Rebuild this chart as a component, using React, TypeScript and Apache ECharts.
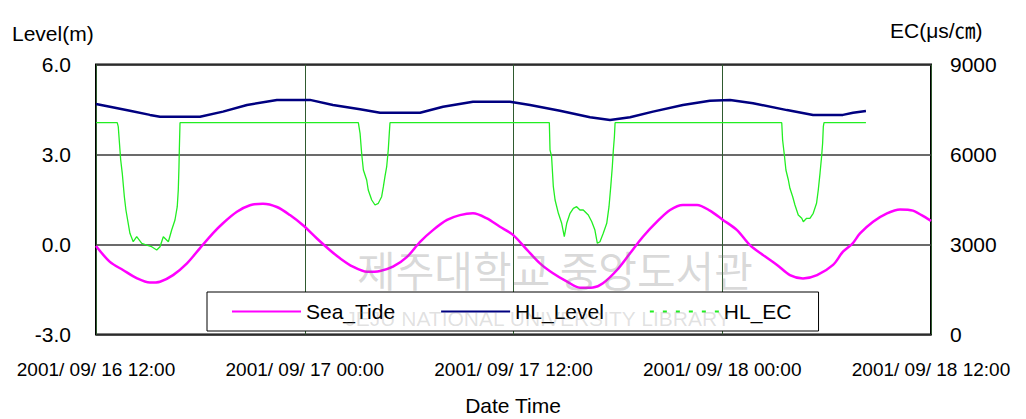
import React, { useEffect, useRef } from "react";
import * as echarts from "echarts";

// Hours after 2001/09/16 12:00
const X_TICK_LABELS = [
  "2001/ 09/ 16 12:00",
  "2001/ 09/ 17 00:00",
  "2001/ 09/ 17 12:00",
  "2001/ 09/ 18 00:00",
  "2001/ 09/ 18 12:00",
];

const TIDE_HOURS = [
  0, 0.8, 1.55, 2.36, 3.1, 3.68, 4.43, 5.23, 5.98, 6.73, 7.3, 8.1, 8.85, 9.6, 10.4, 11.15, 11.9,
  12.7, 13.45, 14.03, 14.77, 15.58, 16.33, 17.07, 17.88, 18.63, 19.37, 20.18, 20.92, 21.67, 22.47,
  23.22, 23.97, 24.78, 25.52, 26.27, 27.08, 27.82, 28.57, 29.14, 29.95, 30.7, 31.44, 32.25, 33.0,
  33.74, 34.55, 35.29, 36.04, 36.85, 37.59, 38.34, 39.15, 39.89, 40.64, 41.45, 42.37, 42.94, 43.5,
  43.92, 44.67, 45.47, 46.22, 46.96, 47.77, 48,
];
const TIDE_M = [
  -0.05, -0.58, -0.85, -1.13, -1.27, -1.24, -1.02, -0.63, -0.12, 0.38, 0.71, 1.09, 1.31, 1.36, 1.25,
  0.98, 0.64, 0.2, -0.19, -0.46, -0.74, -0.91, -0.88, -0.74, -0.41, 0.09, 0.48, 0.82, 0.98, 1.04,
  0.87, 0.59, 0.32, -0.18, -0.63, -0.96, -1.24, -1.44, -1.43, -1.29, -0.85, -0.29, 0.26, 0.76, 1.15,
  1.32, 1.32, 1.13, 0.82, 0.48, -0.02, -0.35, -0.68, -1.02, -1.13, -1.02, -0.68, -0.24, 0.04, 0.37,
  0.76, 1.04, 1.17, 1.13, 0.87, 0.78,
];

const LEVEL_HOURS = [
  0, 0.8, 1.95, 3.1, 3.68, 5.98, 7.3, 8.68, 10.4, 12.3, 13.62, 15.18, 16.33, 18.63, 19.95, 21.67,
  23.8, 24.95, 26.67, 28.4, 29.55, 30.7, 32.02, 33.74, 35.29, 36.45, 37.77, 39.72, 41.22, 42.94,
  43.52, 44.26,
];
const LEVEL_M = [
  4.68, 4.59, 4.46, 4.32, 4.26, 4.26, 4.43, 4.65, 4.82, 4.82, 4.65, 4.51, 4.39, 4.39, 4.59, 4.76,
  4.76, 4.65, 4.46, 4.24, 4.15, 4.24, 4.43, 4.65, 4.79, 4.82, 4.71, 4.48, 4.32, 4.32, 4.39, 4.45,
];

const EC_HOURS = [
  0, 1.22, 1.28, 1.42, 1.51, 1.63, 1.72, 1.95, 2.14, 2.34, 2.63, 2.91, 3.2, 3.49, 3.68, 3.87, 4.16,
  4.35, 4.54, 4.67, 4.73, 4.77, 4.79, 4.83,
  15.08, 15.18, 15.27, 15.37, 15.56, 15.65, 15.85, 16.04, 16.23, 16.42, 16.52, 16.61, 16.71, 16.8,
  16.86, 16.9,
  26.06, 26.1, 26.19, 26.29, 26.39, 26.58, 26.77, 26.92, 27.06, 27.25, 27.44, 27.63, 27.82, 28.01,
  28.3, 28.5, 28.68, 28.82, 28.97, 29.16, 29.36, 29.49, 29.59, 29.68, 29.74, 29.8, 29.84,
  39.42, 39.47, 39.57, 39.66, 39.8, 39.89, 40.05, 40.18, 40.37, 40.57, 40.66, 40.85, 41.04, 41.23,
  41.42, 41.52, 41.62, 41.71, 41.77, 41.81, 41.85, 44.26,
];
const EC_US = [
  7060, 7060, 6927, 5817, 5373, 4593, 4150, 3373, 3093, 3260, 3040, 2983, 2927, 2817, 2927, 3260,
  3093, 3483, 3817, 4260, 4817, 5593, 6150, 7060,
  7060, 6707, 6040, 5483, 5150, 4817, 4483, 4317, 4373, 4593, 4927, 5260, 5593, 6150, 6707, 7060,
  7060, 6150, 5927, 4927, 4483, 4040, 3707, 3260, 3707, 4040, 4207, 4260, 4150, 4150, 3983, 3760,
  3483, 3040, 3093, 3373, 3707, 4260, 4927, 5593, 6150, 6593, 7060,
  7060, 6483, 5983, 5483, 5150, 4873, 4593, 4317, 3983, 3873, 3760, 3873, 3873, 4040, 4373, 4817,
  5373, 5927, 6373, 6927, 7060, 7060,
];

const zip = (xs: number[], ys: number[]) => xs.map((x, i) => [x, ys[i]]);

const FONT = "'Liberation Sans', Arial, 'Noto Sans CJK KR', sans-serif";

export default function App() {
  const ref = useRef<HTMLDivElement>(null);

  useEffect(() => {
    document.body.style.margin = "0";
    const chart = echarts.init(ref.current!, null, { renderer: "svg" });
    const option: any = {
      animation: false,
      backgroundColor: "#fff",
      textStyle: { fontFamily: FONT },
      grid: {
        left: 96,
        right: 95,
        top: 64.5,
        bottom: 84.5,
        show: true,
        borderColor: "#000",
        borderWidth: 2,
        backgroundColor: "transparent",
      },
      xAxis: {
        type: "value",
        min: 0,
        max: 48,
        interval: 12,
        axisLine: { show: false },
        axisTick: { show: false },
        axisLabel: {
          margin: 25,
          fontSize: 19,
          color: "#000",
          fontFamily: FONT,
          formatter: (v: number) => X_TICK_LABELS[Math.round(v / 12)] ?? "",
        },
        splitLine: { show: true, lineStyle: { color: "#2f5a2f", width: 1 } },
      },
      yAxis: [
        {
          type: "value",
          min: -3,
          max: 6,
          interval: 3,
          axisLine: { show: false },
          axisTick: { show: false },
          axisLabel: {
            margin: 25,
            fontSize: 21,
            color: "#000",
            fontFamily: FONT,
            formatter: (v: number) => v.toFixed(1),
          },
          splitLine: { show: true, lineStyle: { color: "#3a3a3a", width: 1.5 } },
        },
        {
          type: "value",
          min: 0,
          max: 9000,
          interval: 3000,
          axisLine: { show: false },
          axisTick: { show: false },
          axisLabel: {
            margin: 19,
            fontSize: 21,
            color: "#000",
            fontFamily: FONT,
            formatter: (v: number) => String(v),
          },
          splitLine: { show: false },
        },
      ],
      legend: {
        left: 207,
        top: 292,
        orient: "horizontal",
        backgroundColor: "#fff",
        borderColor: "#000",
        borderWidth: 1,
        borderRadius: 0,
        padding: [8, 27, 8, 24],
        itemGap: 45,
        itemWidth: 69,
        itemHeight: 14,
        itemStyle: { color: "rgba(0,0,0,0)", borderColor: "rgba(0,0,0,0)", borderWidth: 0 },
        textStyle: { fontSize: 21, color: "#000", fontFamily: FONT, lineHeight: 23 },
        data: [
          { name: "Sea_Tide" },
          { name: "HL_Level" },
          { name: "HL_EC", lineStyle: { type: [4, 9], width: 2 } },
        ],
      },
      graphic: [
        {
          type: "text",
          x: 12,
          y: 33,
          style: {
            text: "Level(m)",
            fontSize: 21,
            fill: "#000",
            fontFamily: FONT,
            verticalAlign: "middle",
          },
        },
        {
          type: "text",
          x: 890,
          y: 30,
          style: {
            text: "EC(μs/㎝)",
            fontSize: 21,
            fill: "#000",
            fontFamily: FONT,
            verticalAlign: "middle",
          },
        },
        {
          type: "text",
          x: 513,
          y: 405,
          style: {
            text: "Date Time",
            fontSize: 21,
            fill: "#000",
            fontFamily: FONT,
            align: "center",
            verticalAlign: "middle",
          },
        },
        {
          type: "text",
          x: 555,
          y: 268,
          z: 100,
          silent: true,
          style: {
            text: "제주대학교 중앙도서관",
            fontSize: 42,
            fill: "rgba(120,120,120,0.28)",
            fontFamily: "'Noto Sans CJK KR', sans-serif",
            align: "center",
            verticalAlign: "middle",
          },
        },
        {
          type: "text",
          x: 538,
          y: 318,
          z: 100,
          silent: true,
          style: {
            text: "JEJU NATIONAL UNIVERSITY LIBRARY",
            fontSize: 21,
            fill: "rgba(120,120,120,0.22)",
            fontFamily: FONT,
            align: "center",
            verticalAlign: "middle",
          },
        },
      ],
      series: [
        {
          name: "Sea_Tide",
          type: "line",
          yAxisIndex: 0,
          data: zip(TIDE_HOURS, TIDE_M),
          showSymbol: false,
          symbol: "none",
          smooth: 0.3,
          lineStyle: { color: "#ff00ff", width: 2.5 },
          itemStyle: { color: "#ff00ff" },
          z: 3,
        },
        {
          name: "HL_Level",
          type: "line",
          yAxisIndex: 0,
          data: zip(LEVEL_HOURS, LEVEL_M),
          showSymbol: false,
          symbol: "none",
          lineStyle: { color: "#000080", width: 2.5 },
          itemStyle: { color: "#000080" },
          z: 3,
        },
        {
          name: "HL_EC",
          type: "line",
          yAxisIndex: 1,
          data: zip(EC_HOURS, EC_US),
          showSymbol: false,
          symbol: "none",
          lineStyle: { color: "#22ee22", width: 1.3 },
          itemStyle: { color: "#22ee22" },
          z: 3,
        },
      ],
    };
    chart.setOption(option);
    return () => chart.dispose();
  }, []);

  return <div ref={ref} style={{ width: 1026, height: 419 }} />;
}
